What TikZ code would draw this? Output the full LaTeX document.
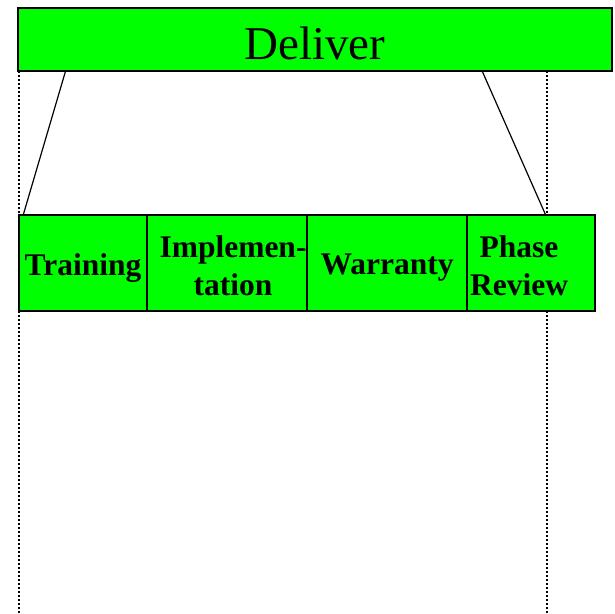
\documentclass[tikz,border=0pt]{standalone}
\usepackage{fontspec}
\setmainfont{Liberation Serif}
\definecolor{phasegreen}{HTML}{00FF00}
\begin{document}
\begin{tikzpicture}[x=1pt,y=-1pt,
  greenbox/.style={draw=black, line width=1.2pt, fill=phasegreen, inner sep=0pt},
  steplabel/.style={inner sep=0pt, align=center,
    font=\fontsize{31.5}{38}\selectfont\bfseries},
  link/.style={draw=black, line width=1.2pt},
  guide/.style={draw=black, line width=1.6pt, dash pattern=on 2pt off 2pt}]
  \useasboundingbox (0,0) rectangle (615,613);
  % top-level phase
  \node[greenbox, minimum width=594pt, minimum height=63pt] (deliver) at (315,39.5) {};
  \node[inner sep=0pt, font=\fontsize{47}{50}\selectfont] (deliver-label)
        at ([yshift=-4pt]deliver.center) {Deliver};
  % vertical guide lines below the phase
  \coordinate (gl0) at (19,71);
  \coordinate (gl1) at (19,613);
  \coordinate (gr0) at (547,71);
  \coordinate (gr1) at (547,613);
  \draw[guide] (gl0) -- (gl1);
  \draw[guide] (gr0) -- (gr1);
  % sub-steps
  \node[greenbox, minimum width=128pt, minimum height=96pt] (training) at (83,263) {};
  \node[greenbox, minimum width=176pt, minimum height=96pt] (impl) at (235,263) {};
  \node[greenbox, minimum width=144pt, minimum height=96pt] (review) at (523,263) {};
  \node[greenbox, minimum width=160pt, minimum height=96pt] (warranty) at (387,263) {};
  \node[steplabel] (training-label) at ([yshift=-5pt]training.center) {Training};
  \node[steplabel] (impl-label) at ([xshift=-2pt,yshift=-3pt]impl.center) {Implemen-\\tation};
  \node[steplabel] (warranty-label) at ([yshift=-5pt]warranty.center) {Warranty};
  \node[steplabel] (review-label) at ([xshift=-4pt,yshift=-3pt]review.center) {Phase\\Review};
  % expansion lines
  \coordinate (dl) at ([xshift=48pt]deliver.south west);
  \coordinate (dr) at ([xshift=465pt]deliver.south west);
  \coordinate (tl) at ([xshift=5pt]training.north west);
  \coordinate (tr) at ([xshift=95pt]review.north west);
  \draw[link] (dl) -- (tl);
  \draw[link] (dr) -- (tr);
\end{tikzpicture}
\end{document}
